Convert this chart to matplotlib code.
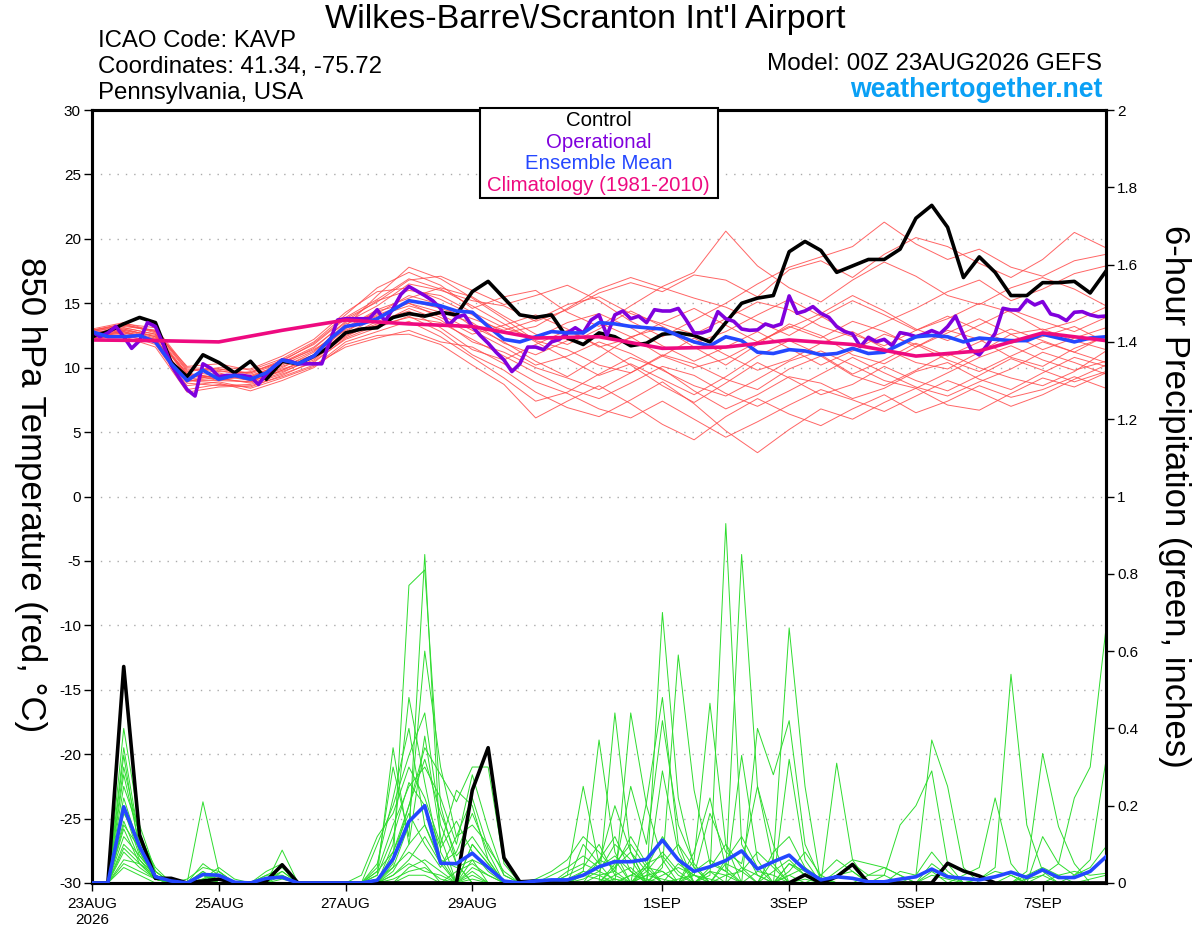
import numpy as np
import matplotlib
matplotlib.use("Agg")
import matplotlib.pyplot as plt
from matplotlib.patches import Rectangle

plt.rcParams["font.family"] = ["Liberation Sans", "DejaVu Sans"]
plt.rcParams["axes.unicode_minus"] = False

# ---- time axes (hours after 00Z 23AUG2026) ----
HOURS_6H = np.arange(0, 385, 6)
HOURS_3H = np.arange(0, 385, 3)
HOURS_12H = np.arange(0, 385, 12)
HOURS_24H = np.arange(0, 385, 24)

TICK_HOURS = [0, 48, 96, 144, 216, 264, 312, 360]
TICK_LABELS = ["23AUG\n2026", "25AUG", "27AUG", "29AUG", "1SEP", "3SEP", "5SEP", "7SEP"]

# ---- 850 hPa temperature (C) ----
control_t = [12.4, 12.8, 13.4, 13.9, 13.5, 10.4, 9.3, 11.0, 10.4, 9.6, 10.5, 9.1, 10.5,
             10.3, 10.9, 11.6, 12.7, 13.0, 13.1, 13.9, 14.2, 14.0, 14.3, 14.1, 15.9, 16.7,
             15.4, 14.1, 13.9, 14.1, 12.3, 11.8, 12.7, 12.4, 11.7, 11.9, 12.6, 12.7, 12.5,
             12.0, 13.5, 15.0, 15.4, 15.6, 19.0, 19.8, 19.1, 17.4, 17.9, 18.4, 18.4, 19.2,
             21.6, 22.6, 20.9, 17.0, 18.6, 17.4, 15.6, 15.6, 16.6, 16.6, 16.7, 15.8, 17.5]

operational_t = [12.8, 12.4, 12.7, 13.2, 12.4, 11.5, 12.1, 13.5, 13.2, 11.8, 10.2, 9.2, 8.3,
                 7.8, 10.3, 9.95, 9.3, 9.4, 9.4, 9.4, 9.3, 8.7, 9.5, 10.1, 10.6, 10.5, 10.3,
                 10.3, 10.3, 10.3, 12.0, 13.7, 13.8, 13.8, 13.8, 13.8, 14.5, 13.6, 14.6, 15.7,
                 16.3, 15.95, 15.6, 15.2, 14.6, 13.3, 13.9, 14.1, 13.2, 12.5, 11.9, 11.2, 10.6,
                 9.7, 10.3, 11.6, 11.6, 11.4, 12.0, 12.2, 12.7, 13.1, 12.7, 13.7, 14.1, 12.5,
                 14.1, 14.4, 13.8, 14.0, 13.5, 14.5, 14.4, 14.4, 14.6, 13.7, 12.7, 12.7, 12.9,
                 14.35, 13.8, 13.6, 13.0,
                 12.9, 12.93, 13.39, 13.19, 13.39, 15.57, 14.22, 14.4, 14.74, 14.22, 13.91,
                 13.19, 12.8, 12.62, 11.63, 12.36, 12.02, 12.2, 11.71, 12.72, 12.6, 12.41, 12.6,
                 12.88, 12.62, 13.19, 14.01, 12.54, 11.37, 10.99, 11.76, 12.67, 14.61, 14.48,
                 14.48, 15.26, 14.87, 15.13, 14.17, 14.01, 13.65, 14.3, 14.35, 14.1, 13.96, 14.01]

ens_mean_t = [12.8, 12.4, 12.4, 12.5, 12.0, 10.3, 9.0, 9.8, 9.1, 9.4, 9.1, 9.6, 10.6, 10.3,
              10.9, 12.2, 13.2, 13.4, 13.8, 14.5, 15.2, 15.0, 14.8, 14.4, 14.3, 13.2, 12.2,
              12.0, 12.4, 12.8, 12.7, 12.7, 13.5, 13.4, 13.2, 13.1, 13.0, 12.5, 12.0, 11.7,
              12.4, 12.1, 11.2, 11.1, 11.4, 11.3, 11.0, 11.1, 11.5, 11.1, 11.2, 11.8, 12.4,
              12.5, 12.4, 12.0, 12.3, 12.2, 12.1, 12.1, 12.6, 12.3, 12.0, 12.3, 12.4]

climatology_t = [12.15, 12.1, 12.0, 12.9, 13.7, 13.4, 13.2, 12.3, 12.4, 11.5, 11.6, 12.15,
                 11.8, 10.9, 11.3, 12.7, 12.1]

# ensemble members, every 12 h
e01 = [12.8, 13.2, 12.9, 9.8, 9.9, 9.5, 10.4, 11.6, 13.5, 14.8, 16.5, 16.0, 15.2, 14.8, 13.6, 14.5, 15.8, 16.6, 15.9, 17.2, 16.8, 15.5, 17.6, 18.3, 17.0, 18.8, 20.1, 19.4, 18.1, 17.0, 18.4, 20.5, 19.3]
e02 = [12.4, 12.7, 12.1, 9.0, 9.2, 8.8, 9.6, 10.8, 12.6, 13.9, 15.2, 14.6, 13.8, 12.9, 13.7, 14.9, 15.5, 14.2, 13.4, 12.6, 13.8, 15.1, 14.5, 13.2, 12.4, 13.5, 14.6, 15.9, 16.8, 15.2, 16.1, 17.3, 17.9]
e03 = [12.9, 13.4, 12.7, 9.5, 9.0, 9.4, 10.2, 11.3, 13.2, 15.6, 17.8, 16.9, 15.4, 13.8, 12.1, 11.4, 10.2, 9.6, 10.9, 12.3, 11.0, 9.8, 10.6, 11.9, 12.8, 11.5, 10.4, 9.9, 11.2, 12.6, 13.0, 12.1, 11.4]
e04 = [12.2, 12.5, 12.0, 8.6, 8.9, 8.4, 9.2, 10.1, 12.0, 12.8, 13.6, 12.4, 10.8, 9.2, 7.4, 8.1, 9.5, 10.8, 9.9, 8.2, 6.8, 7.9, 9.3, 8.8, 7.6, 8.4, 9.7, 10.4, 9.1, 8.3, 9.6, 10.8, 10.1]
e05 = [12.6, 13.1, 12.6, 9.2, 9.6, 9.0, 10.0, 11.2, 13.4, 14.2, 15.6, 14.9, 13.2, 12.0, 10.5, 9.3, 10.8, 12.4, 13.1, 11.6, 10.2, 11.8, 13.4, 12.5, 11.0, 10.3, 11.6, 12.9, 12.2, 10.8, 10.1, 11.5, 12.4]
e06 = [12.5, 12.9, 12.3, 8.9, 9.5, 9.1, 9.9, 10.7, 12.4, 13.6, 14.4, 13.1, 11.4, 10.6, 11.8, 12.9, 11.7, 10.2, 8.6, 7.3, 8.8, 10.4, 9.2, 7.9, 8.7, 10.1, 9.0, 8.2, 9.4, 10.7, 9.8, 8.9, 9.7]
e07 = [13.0, 13.5, 12.8, 10.1, 10.3, 9.8, 10.7, 12.0, 14.1, 16.2, 17.4, 16.4, 14.6, 15.5, 16.0, 14.3, 13.2, 14.8, 16.3, 17.4, 20.6, 17.9, 16.2, 15.1, 16.8, 18.2, 17.1, 15.6, 14.9, 16.2, 17.0, 16.1, 14.8]
e08 = [12.3, 12.6, 11.8, 8.3, 8.7, 8.5, 9.4, 10.5, 12.2, 13.1, 14.0, 12.8, 11.0, 9.8, 8.1, 6.9, 6.2, 7.5, 8.9, 7.2, 5.1, 3.4, 5.2, 6.8, 6.0, 7.3, 8.4, 7.1, 6.7, 8.0, 9.2, 8.5, 9.6]
e09 = [12.7, 13.0, 12.4, 9.6, 9.1, 8.9, 9.8, 10.9, 13.0, 14.4, 15.0, 13.9, 12.6, 13.3, 14.1, 13.0, 11.6, 12.3, 13.5, 14.6, 13.3, 12.0, 13.1, 14.2, 15.6, 14.4, 13.0, 12.1, 13.3, 14.5, 13.6, 12.8, 13.9]
e10 = [12.4, 12.8, 12.2, 9.0, 8.8, 8.2, 9.0, 10.0, 11.8, 12.5, 12.6, 11.8, 10.2, 8.7, 6.1, 7.4, 8.6, 7.2, 5.6, 4.4, 6.2, 7.6, 6.4, 5.5, 6.8, 7.9, 6.5, 7.4, 8.6, 7.7, 8.3, 9.3, 8.4]
e11 = [12.9, 13.3, 12.9, 9.9, 9.7, 9.6, 10.6, 11.8, 13.8, 15.1, 16.8, 17.1, 16.0, 14.9, 15.6, 16.4, 15.2, 13.6, 12.4, 13.7, 15.0, 16.5, 17.8, 18.6, 19.4, 21.3, 19.6, 18.4, 19.2, 17.8, 17.1, 18.3, 18.8]
e12 = [12.6, 12.9, 12.5, 9.4, 9.3, 9.7, 10.4, 11.4, 12.9, 14.0, 14.8, 14.1, 12.9, 11.6, 10.2, 10.9, 12.0, 11.1, 9.8, 8.6, 7.8, 9.1, 10.5, 11.3, 10.2, 9.0, 8.4, 9.6, 10.8, 11.7, 10.6, 9.8, 10.5]
e13 = [12.5, 12.8, 12.0, 8.8, 8.6, 8.7, 9.5, 10.4, 12.3, 13.3, 13.9, 13.5, 12.2, 10.9, 9.6, 8.4, 7.6, 8.8, 10.1, 9.4, 8.0, 7.0, 8.2, 9.5, 10.8, 9.6, 8.5, 7.8, 8.9, 9.9, 11.2, 10.4, 9.5]
e14 = [12.8, 13.3, 12.8, 9.7, 10.0, 9.9, 10.9, 12.2, 14.3, 15.9, 16.2, 15.3, 14.1, 12.7, 13.2, 14.6, 16.1, 17.0, 16.2, 15.4, 14.7, 13.6, 12.5, 13.9, 15.2, 14.1, 12.9, 13.8, 15.0, 14.3, 12.9, 13.6, 14.7]
e15 = [12.3, 12.4, 11.6, 8.1, 8.5, 8.6, 9.3, 10.2, 11.6, 12.3, 12.9, 12.0, 11.6, 10.3, 8.9, 8.0, 6.8, 6.1, 7.4, 6.0, 4.6, 5.8, 7.1, 8.3, 7.5, 6.6, 7.8, 9.0, 8.1, 7.0, 7.9, 9.1, 10.2]
e16 = [12.7, 13.1, 12.6, 9.3, 9.8, 9.3, 10.1, 11.0, 13.1, 14.5, 15.4, 16.2, 15.5, 14.0, 12.6, 11.8, 13.0, 14.4, 13.2, 11.9, 12.8, 14.1, 15.3, 14.0, 12.6, 11.7, 12.9, 14.0, 12.9, 11.9, 12.4, 13.2, 12.0]
e17 = [12.4, 12.7, 12.2, 9.1, 9.4, 9.0, 9.7, 10.6, 12.5, 13.4, 14.6, 13.7, 12.0, 11.2, 10.0, 9.2, 8.3, 9.6, 11.0, 10.3, 9.1, 8.3, 9.9, 10.9, 9.4, 8.6, 9.8, 11.1, 10.0, 9.2, 8.6, 9.7, 11.3]
e18 = [12.6, 13.0, 12.4, 9.5, 9.2, 9.3, 10.3, 11.5, 13.6, 15.2, 16.0, 15.6, 14.3, 13.1, 12.3, 13.5, 14.2, 13.1, 11.7, 10.5, 11.6, 12.8, 11.5, 10.2, 11.3, 12.6, 11.8, 10.6, 9.7, 10.9, 12.0, 11.2, 10.4]
e19 = [12.9, 13.4, 13.1, 10.0, 9.9, 9.6, 10.5, 11.9, 13.9, 15.3, 16.9, 16.1, 14.8, 13.4, 12.0, 10.7, 9.4, 10.3, 9.1, 7.9, 9.3, 10.9, 12.1, 11.0, 9.5, 10.6, 11.9, 10.9, 12.0, 13.0, 12.1, 11.2, 12.5]
e20 = [12.5, 12.8, 12.2, 9.0, 9.0, 8.9, 9.8, 10.8, 12.8, 14.1, 15.0, 14.3, 13.5, 11.9, 11.0, 12.1, 13.5, 12.4, 10.9, 10.0, 10.7, 12.0, 13.2, 12.3, 13.6, 12.8, 11.6, 12.7, 13.8, 12.6, 11.4, 12.3, 13.1]
members_t = [e01, e02, e03, e04, e05, e06, e07, e08, e09, e10,
             e11, e12, e13, e14, e15, e16, e17, e18, e19, e20]

# ---- 6-hour precipitation (inches) ----
control_p = [0, 0, 0.56, 0.124, 0.012, 0.012, 0, 0.005, 0.01, 0, 0, 0.005, 0.047, 0, 0, 0,
             0, 0, 0, 0, 0, 0, 0, 0, 0.24, 0.35, 0.065, 0.003, 0.005, 0, 0, 0, 0, 0, 0, 0,
             0, 0, 0, 0, 0, 0, 0, 0, 0, 0.021, 0, 0.016, 0.048, 0, 0, 0, 0, 0, 0.051, 0.031,
             0.018, 0, 0, 0, 0, 0, 0, 0, 0]

ens_mean_p = [0, 0, 0.197, 0.094, 0.016, 0.005, 0, 0.022, 0.02, 0.002, 0, 0.012, 0.015, 0,
              0, 0, 0, 0, 0.007, 0.062, 0.159, 0.2, 0.051, 0.05, 0.077, 0.04, 0.005, 0,
              0.005, 0.008, 0.008, 0.02, 0.042, 0.055, 0.055, 0.061, 0.111, 0.06, 0.03,
              0.042, 0.058, 0.083, 0.036, 0.055, 0.072, 0.034, 0.008, 0.016, 0.012, 0.003,
              0.003, 0.01, 0.016, 0.036, 0.016, 0.012, 0.008, 0.016, 0.028, 0.014, 0.034,
              0.014, 0.014, 0.03, 0.068]

# members: (hour, amount) for every 6-h period with precipitation
p01 = [(12, 0.40), (18, 0.15), (24, 0.03), (42, 0.02), (114, 0.05), (120, 0.77), (126, 0.81), (132, 0.20), (138, 0.05), (192, 0.06), (198, 0.12), (204, 0.03), (216, 0.70), (222, 0.22), (228, 0.04), (264, 0.05), (270, 0.02), (318, 0.03)]
p02 = [(12, 0.35), (18, 0.11), (24, 0.02), (48, 0.03), (108, 0.04), (114, 0.30), (120, 0.12), (126, 0.85), (132, 0.08), (144, 0.06), (180, 0.02), (186, 0.25), (192, 0.05), (204, 0.44), (210, 0.20), (216, 0.06), (234, 0.02), (240, 0.93), (246, 0.10), (252, 0.02), (348, 0.02)]
p03 = [(12, 0.30), (18, 0.12), (24, 0.04), (42, 0.21), (48, 0.03), (108, 0.10), (114, 0.20), (120, 0.33), (126, 0.44), (132, 0.15), (138, 0.05), (198, 0.44), (204, 0.08), (216, 0.04), (222, 0.59), (228, 0.24), (234, 0.05), (240, 0.03), (246, 0.85), (252, 0.25), (258, 0.05), (312, 0.02), (318, 0.37), (324, 0.25), (330, 0.04)]
p04 = [(12, 0.33), (18, 0.08), (24, 0.01), (42, 0.05), (48, 0.02), (72, 0.085), (114, 0.08), (120, 0.20), (126, 0.35), (132, 0.28), (138, 0.21), (144, 0.30), (150, 0.30), (156, 0.05), (186, 0.03), (192, 0.37), (198, 0.08), (210, 0.21), (216, 0.48), (222, 0.10), (234, 0.03), (258, 0.06), (264, 0.66), (270, 0.25), (282, 0.31), (288, 0.06)]
p05 = [(12, 0.28), (18, 0.10), (24, 0.02), (66, 0.03), (72, 0.05), (108, 0.03), (114, 0.15), (120, 0.25), (126, 0.30), (132, 0.22), (138, 0.10), (144, 0.28), (150, 0.14), (156, 0.02), (198, 0.05), (204, 0.10), (210, 0.04), (228, 0.06), (234, 0.465), (240, 0.10), (252, 0.40), (258, 0.28), (264, 0.42), (270, 0.10), (276, 0.01), (360, 0.02), (366, 0.05), (372, 0.22), (378, 0.30), (384, 0.66)]
p06 = [(12, 0.25), (18, 0.13), (24, 0.03), (36, 0.01), (42, 0.04), (48, 0.03), (108, 0.02), (114, 0.35), (120, 0.10), (126, 0.38), (132, 0.12), (144, 0.10), (150, 0.05), (186, 0.10), (192, 0.05), (198, 0.20), (204, 0.08), (216, 0.29), (222, 0.08), (246, 0.33), (252, 0.06), (300, 0.02), (306, 0.15), (312, 0.20), (318, 0.29), (324, 0.05), (336, 0.01), (342, 0.04), (348, 0.54), (354, 0.15), (360, 0.03)]
p07 = [(12, 0.22), (18, 0.09), (24, 0.02), (42, 0.03), (66, 0.02), (72, 0.04), (102, 0.02), (108, 0.12), (114, 0.18), (120, 0.30), (126, 0.22), (132, 0.10), (138, 0.24), (144, 0.20), (150, 0.06), (168, 0.01), (174, 0.03), (180, 0.06), (186, 0.12), (192, 0.08), (198, 0.03), (204, 0.25), (210, 0.10), (216, 0.42), (222, 0.15), (228, 0.05), (264, 0.32), (270, 0.06), (354, 0.03), (360, 0.335), (366, 0.146), (372, 0.05)]
p08 = [(12, 0.20), (18, 0.08), (24, 0.01), (42, 0.02), (48, 0.02), (114, 0.04), (120, 0.15), (126, 0.60), (132, 0.30), (138, 0.12), (144, 0.15), (150, 0.10), (156, 0.02), (180, 0.03), (186, 0.05), (192, 0.03), (198, 0.10), (204, 0.06), (222, 0.05), (228, 0.02), (234, 0.18), (240, 0.08), (246, 0.05), (252, 0.25), (258, 0.10), (276, 0.02), (282, 0.06), (288, 0.03), (360, 0.12), (366, 0.05), (372, 0.02), (378, 0.06), (384, 0.318)]
p09 = [(12, 0.19), (18, 0.07), (24, 0.02), (66, 0.01), (72, 0.03), (114, 0.10), (120, 0.48), (126, 0.26), (132, 0.06), (144, 0.04), (150, 0.02), (186, 0.02), (192, 0.06), (198, 0.04), (204, 0.12), (210, 0.05), (228, 0.08), (234, 0.22), (240, 0.04), (258, 0.08), (264, 0.12), (270, 0.04), (282, 0.02), (288, 0.05), (294, 0.02), (300, 0.02)]
p10 = [(12, 0.18), (18, 0.11), (24, 0.03), (42, 0.01), (48, 0.04), (54, 0.01), (108, 0.05), (114, 0.22), (120, 0.40), (126, 0.15), (132, 0.05), (138, 0.08), (144, 0.18), (150, 0.08), (174, 0.02), (180, 0.04), (186, 0.07), (192, 0.04), (198, 0.06), (210, 0.04), (216, 0.12), (222, 0.06), (240, 0.06), (246, 0.12), (252, 0.04), (264, 0.03), (270, 0.08), (276, 0.02), (330, 0.02), (336, 0.04), (342, 0.22), (348, 0.05)]
p11 = [(12, 0.16), (18, 0.06), (24, 0.01), (42, 0.03), (72, 0.02), (114, 0.06), (120, 0.20), (126, 0.32), (132, 0.18), (138, 0.07), (144, 0.12), (150, 0.06), (180, 0.02), (186, 0.04), (192, 0.10), (198, 0.02), (210, 0.03), (216, 0.08), (222, 0.03), (234, 0.04), (240, 0.10), (246, 0.04), (264, 0.05), (270, 0.03), (282, 0.03), (288, 0.06), (294, 0.05), (300, 0.04), (306, 0.02)]
p12 = [(12, 0.15), (18, 0.09), (24, 0.02), (48, 0.01), (108, 0.02), (114, 0.12), (120, 0.26), (126, 0.20), (132, 0.09), (138, 0.16), (144, 0.08), (150, 0.03), (186, 0.02), (192, 0.04), (198, 0.07), (204, 0.03), (216, 0.05), (222, 0.10), (228, 0.04), (240, 0.05), (246, 0.03), (252, 0.08), (258, 0.04), (306, 0.03), (312, 0.02), (318, 0.08), (324, 0.03), (354, 0.02), (360, 0.04), (366, 0.02)]
p13 = [(12, 0.14), (18, 0.05), (24, 0.01), (42, 0.02), (72, 0.03), (108, 0.03), (114, 0.08), (120, 0.18), (126, 0.10), (132, 0.04), (138, 0.12), (144, 0.22), (150, 0.09), (156, 0.03), (198, 0.04), (204, 0.08), (210, 0.03), (228, 0.03), (234, 0.06), (240, 0.03), (258, 0.03), (264, 0.06), (270, 0.02), (372, 0.02), (378, 0.04), (384, 0.094)]
p14 = [(12, 0.12), (18, 0.07), (24, 0.02), (42, 0.01), (48, 0.02), (114, 0.03), (120, 0.10), (126, 0.15), (132, 0.06), (138, 0.04), (144, 0.06), (150, 0.04), (192, 0.02), (198, 0.03), (210, 0.05), (216, 0.07), (222, 0.02), (246, 0.04), (252, 0.02), (294, 0.02), (300, 0.04), (306, 0.02), (318, 0.05), (324, 0.02)]
p15 = [(12, 0.10), (18, 0.06), (24, 0.02), (66, 0.02), (72, 0.02), (114, 0.02), (120, 0.06), (126, 0.12), (132, 0.05), (144, 0.10), (150, 0.05), (180, 0.01), (186, 0.03), (192, 0.02), (204, 0.02), (210, 0.04), (216, 0.03), (234, 0.03), (240, 0.02), (264, 0.02), (270, 0.04), (276, 0.01), (366, 0.02), (372, 0.03), (378, 0.02), (384, 0.025)]
p16 = [(12, 0.09), (18, 0.05), (24, 0.01), (42, 0.02), (48, 0.01), (108, 0.01), (114, 0.04), (120, 0.08), (126, 0.05), (138, 0.03), (144, 0.05), (150, 0.02), (198, 0.02), (204, 0.04), (216, 0.02), (222, 0.04), (228, 0.02), (252, 0.03), (258, 0.02), (282, 0.02), (288, 0.03)]
p17 = [(12, 0.08), (18, 0.04), (24, 0.01), (48, 0.02), (120, 0.04), (126, 0.06), (132, 0.03), (144, 0.03), (186, 0.01), (192, 0.03), (198, 0.01), (210, 0.02), (216, 0.03), (240, 0.02), (246, 0.03), (336, 0.01), (342, 0.03), (348, 0.02)]
p18 = [(12, 0.06), (18, 0.05), (24, 0.02), (42, 0.01), (114, 0.02), (120, 0.05), (126, 0.03), (132, 0.02), (144, 0.02), (204, 0.02), (210, 0.01), (228, 0.02), (234, 0.01), (264, 0.02), (318, 0.02), (324, 0.01)]
p19 = [(12, 0.05), (18, 0.03), (24, 0.01), (72, 0.01), (114, 0.01), (120, 0.03), (126, 0.04), (132, 0.01), (186, 0.02), (192, 0.01), (222, 0.01), (228, 0.02), (354, 0.01), (360, 0.02)]
p20 = [(12, 0.04), (18, 0.02), (48, 0.01), (120, 0.02), (126, 0.02), (144, 0.01), (198, 0.01), (210, 0.02), (216, 0.01), (270, 0.01), (378, 0.01), (384, 0.02)]
members_p = [p01, p02, p03, p04, p05, p06, p07, p08, p09, p10,
             p11, p12, p13, p14, p15, p16, p17, p18, p19, p20]


def expand(pairs):
    """Turn (hour, amount) pairs into a full 6-hourly series."""
    series = np.zeros(len(HOURS_6H))
    for hour, amount in pairs:
        series[hour // 6] = amount
    return series


fig = plt.figure(figsize=(12, 9.27), dpi=100)
ax = fig.add_axes([0.0767, 0.0475, 0.845, 0.8338])
ax2 = ax.twinx()

# temperature
for m in members_t:
    ax.plot(HOURS_12H, m, color="#ff4a4a", lw=0.7, alpha=0.85, zorder=2)
ax.plot(HOURS_6H, control_t, color="black", lw=2.6, zorder=4)
ax.plot(HOURS_3H, operational_t, color="#8000dd", lw=2.6, zorder=5)
ax.plot(HOURS_6H, ens_mean_t, color="#2447ff", lw=2.6, zorder=6)
ax.plot(HOURS_24H, climatology_t, color="#ee0a80", lw=2.6, zorder=7)

# precipitation
for m in members_p:
    ax2.plot(HOURS_6H, expand(m), color="#2edc2e", lw=0.7, zorder=2)
ax2.plot(HOURS_6H, control_p, color="black", lw=2.6, zorder=4)
ax2.plot(HOURS_6H, ens_mean_p, color="#2447ff", lw=2.6, zorder=5)

ax.set_xlim(0, 384)
ax.set_ylim(-30, 30)
ax2.set_ylim(0, 2)

ax.set_yticks(np.arange(-30, 31, 5))
ax2.set_yticks(np.arange(0, 2.01, 0.2))
ax2.set_yticklabels([f"{v:g}" for v in np.round(np.arange(0, 2.01, 0.2), 1)])
ax.set_xticks(TICK_HOURS)
ax.set_xticklabels(TICK_LABELS)

ax.yaxis.grid(True, linestyle=(0, (1, 5)), color="#aaaaaa", lw=1)
for a in (ax, ax2):
    a.tick_params(direction="out", length=6, width=1, labelsize=11, pad=2)
    for s in a.spines.values():
        s.set_linewidth(2.2)
ax.tick_params(axis="x", pad=4)

# legend box
fig.add_artist(Rectangle((0.4, 0.7864), 0.198, 0.0971, transform=fig.transFigure,
                         facecolor="white", edgecolor="black", lw=1.5, zorder=5))
legend_items = [("Control", "black"), ("Operational", "#8000dd"),
                ("Ensemble Mean", "#2447ff"), ("Climatology (1981-2010)", "#ee0a80")]
for (txt, col), yy in zip(legend_items, [0.8695, 0.8468, 0.8231, 0.7994]):
    fig.text(0.499, yy, txt, color=col, fontsize=14.7, ha="center", va="center", zorder=6)

# header
fig.text(0.4875, 0.9695, "Wilkes-Barre\\/Scranton Int'l Airport", fontsize=24.6,
         ha="center", va="baseline")
fig.text(0.0817, 0.9496, "ICAO Code: KAVP", fontsize=17.3, va="baseline")
fig.text(0.0817, 0.9216, "Coordinates: 41.34, -75.72", fontsize=17.3, va="baseline")
fig.text(0.0817, 0.8929, "Pennsylvania, USA", fontsize=17.3, va="baseline")
fig.text(0.9183, 0.9245, "Model: 00Z 23AUG2026 GEFS", fontsize=17.5, ha="right", va="baseline")
fig.text(0.9183, 0.8959, "weathertogether.net", fontsize=19.2, fontweight="bold",
         color="#0aa0f5", ha="right", va="baseline")

fig.text(0.025, 0.466, "850 hPa Temperature (red, \u00b0C)", fontsize=25,
         rotation=-90, ha="center", va="center")
fig.text(0.979, 0.464, "6-hour Precipitation (green, inches)", fontsize=25,
         rotation=-90, ha="center", va="center")

fig.savefig("out.png", dpi=100)
